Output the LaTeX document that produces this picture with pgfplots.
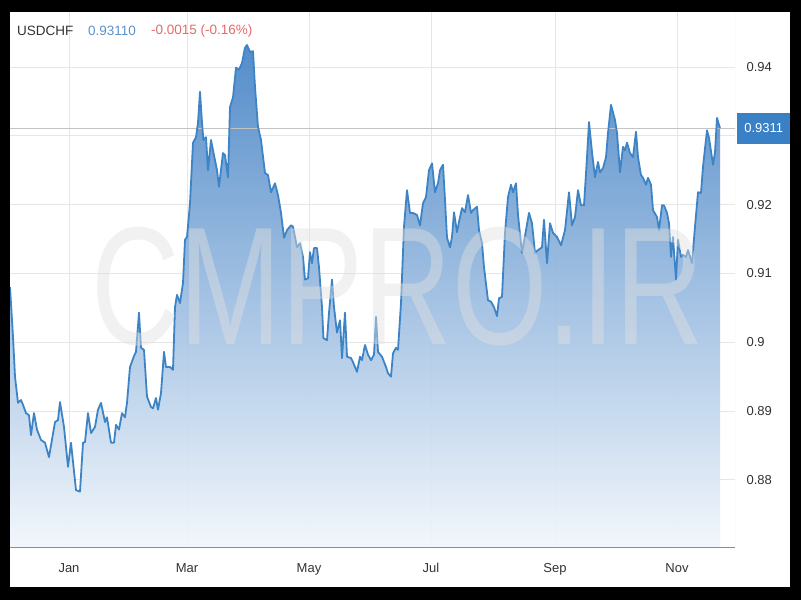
\documentclass[border=0pt]{standalone}
\usepackage{pgfplots}
\pgfplotsset{compat=1.18}
\usepackage{pgfplotstable}
\usepackage{fontspec}
\setmainfont{Liberation Sans}
\definecolor{lineblue}{HTML}{3D84C6}
\definecolor{filltop}{HTML}{4683C6}
\definecolor{fillbot}{HTML}{F2F7FC}
\definecolor{gridc}{HTML}{E6E6E6}
\definecolor{txt}{HTML}{333333}
\definecolor{hdrblue}{HTML}{5B92CC}
\definecolor{hdrred}{HTML}{E36B6B}
\definecolor{boxblue}{HTML}{3A80C5}
\definecolor{priceline}{HTML}{C4C4C4}

\pgfplotstableread{
day value
-29.5 0.9080
-28 0.9008
-27 0.8950
-25.5 0.8912
-24 0.8916
-23 0.8909
-21.5 0.8897
-20 0.8894
-19 0.8865
-17.5 0.8897
-16 0.8873
-14 0.8858
-12 0.8854
-10 0.8833
-7 0.8884
-5.5 0.8887
-4.5 0.8913
-2.5 0.8877
-0.5 0.8819
1 0.8854
3.5 0.8785
5.5 0.8783
7 0.8854
8 0.8855
9.5 0.8897
11 0.8868
13 0.8877
14.5 0.8902
16 0.8912
18 0.8884
19 0.8891
21 0.8854
22.5 0.8854
23.5 0.8880
25 0.8873
26.5 0.8897
28 0.8891
29 0.8912
30.5 0.8964
32.5 0.8980
33.5 0.8986
35 0.9043
36 0.8992
37.5 0.8989
39 0.8921
41 0.8906
42 0.8904
43.5 0.8919
44.5 0.8902
46 0.8926
47.5 0.8986
48.5 0.8964
50.5 0.8964
52 0.8960
53 0.9051
54 0.9069
55.5 0.9057
57 0.9086
58 0.9149
59 0.9153
60.5 0.9202
62 0.9290
63.5 0.9298
64.5 0.9319
65.5 0.9364
66.5 0.9319
67.2 0.9294
68.5 0.9298
69.5 0.9250
71 0.9294
72 0.9279
74 0.9250
75 0.9226
77 0.9275
78 0.9272
79.5 0.9240
80.5 0.9342
82 0.9356
83.5 0.9399
85 0.9396
86.5 0.9406
88 0.9428
89 0.9432
90.5 0.9422
92 0.9423
93 0.9371
94.5 0.9313
96 0.9294
98 0.9246
99.5 0.9243
101 0.9218
103 0.9231
104.5 0.9214
106 0.9188
107.5 0.9152
109 0.9163
111 0.9170
112 0.9168
114 0.9138
115.5 0.9144
117 0.9124
118 0.9091
119.5 0.9093
120.5 0.9131
121.5 0.9115
122.5 0.9137
124 0.9137
125 0.9109
126.5 0.9051
127.2 0.9006
129 0.9003
130 0.9043
131.5 0.9091
132.5 0.9051
134 0.9014
135.5 0.9032
136.5 0.8977
138 0.9043
139 0.8979
141 0.8977
142 0.8971
144 0.8957
145.5 0.8979
146.5 0.8974
148 0.8996
149.5 0.8982
151 0.8974
152.5 0.8982
153.5 0.9037
154.5 0.8986
156.5 0.8979
158.5 0.8964
159.5 0.8955
161 0.8950
162 0.8984
163.5 0.8992
164.5 0.8989
166 0.9057
167.5 0.9168
169 0.9221
170.5 0.9188
172 0.9188
174 0.9185
175.5 0.9170
177 0.9202
178.5 0.9211
180 0.9250
181.5 0.9260
183 0.9218
184.5 0.9231
185.5 0.9250
187 0.9258
188 0.9207
189 0.9152
190.5 0.9138
191.5 0.9153
192.5 0.9189
194 0.9160
195 0.9175
196.5 0.9195
198 0.9189
199.5 0.9214
201 0.9188
202 0.9192
204 0.9197
205 0.9163
206.5 0.9144
207.5 0.9109
209.5 0.9061
211 0.9059
212.5 0.9051
214 0.9038
215 0.9064
216.5 0.9066
218 0.9159
219.5 0.9211
221 0.9229
222 0.9218
223.5 0.9231
224.5 0.9185
226.5 0.9130
228.5 0.9163
230 0.9188
231.5 0.9173
233 0.9130
234.5 0.9134
236.5 0.9138
237.5 0.9178
239 0.9115
240.5 0.9173
242 0.9159
244 0.9153
246 0.9141
248 0.9163
250 0.9218
251.5 0.9170
253 0.9182
254.5 0.9221
256 0.9199
257.5 0.9199
259 0.9269
260 0.9320
261.5 0.9276
263 0.9240
264.5 0.9262
265.5 0.9247
267 0.9253
268.5 0.9269
269.5 0.9304
271 0.9345
273 0.9323
274 0.9304
275.5 0.9247
277 0.9284
278 0.9279
279 0.9290
280.5 0.9275
282 0.9269
283.5 0.9306
284.5 0.9269
286 0.9243
287 0.9239
288.5 0.9229
289.5 0.9239
291 0.9229
292 0.9192
294 0.9182
295 0.9163
296.5 0.9199
297.5 0.9199
299 0.9188
300 0.9173
301 0.9124
302 0.9153
303.5 0.9091
304.5 0.9149
306 0.9124
307 0.9127
308.5 0.9124
309.5 0.9134
311.5 0.9115
313 0.9168
314.5 0.9218
316 0.9217
317 0.9255
319 0.9308
320 0.9297
322 0.9258
323 0.9276
324 0.9326
325.5 0.9311
}\usdchf

\begin{document}
\begin{tikzpicture}[x=1pt,y=1pt]
\fill[black] (0,0) rectangle (801,600);
\fill[white] (10,13) rectangle (790,588);
\begin{axis}[
  at={(10pt,52pt)}, anchor=south west,
  scale only axis, width=725pt, height=536pt,
  xmin=-29.5, xmax=333, ymin=0.8701, ymax=0.9480,
  axis line style={draw=none},
  xtick={0,59,120,181,243,304},
  xticklabels={Jan,Mar,May,Jul,Sep,Nov},
  ytick={0.88,0.89,0.90,0.91,0.92,0.93,0.94},
  yticklabels={0.88,0.89,0.9,0.91,0.92,,0.94},
  yticklabel pos=right,
  xticklabel pos=lower,
  major tick length=0pt,
  xmajorgrids, ymajorgrids,
  major grid style={draw=gridc, line width=1pt},
  tick label style={font=\fontsize{13}{15}\selectfont, text=txt},
  yticklabel style={anchor=west, xshift=8pt},
  xticklabel style={yshift=-12pt},
]
\addplot[draw=none, fill opacity=0.92, top color=filltop, bottom color=fillbot, forget plot]
  table[x=day, y=value] {\usdchf} -- (axis cs:325.5,0.8701) -- (axis cs:-29.5,0.8701) -- cycle;
\addplot[draw=priceline, line width=1.2pt, forget plot] coordinates {(-29.5,0.9311) (333,0.9311)};
\addplot[draw=lineblue, line width=1.8pt, line join=round] table[x=day, y=value] {\usdchf};
\draw[gridc, line width=1pt] (axis cs:333,0.8701) -- (axis cs:333,0.9480);
\draw[black!45, line width=2pt] (axis cs:-29.5,0.8701) -- (axis cs:333,0.8701);
\coordinate (pl) at (axis cs:333,0.9311);
\end{axis}
\node[opacity=0.45, text=black!12, anchor=base west, inner sep=0pt,
      font=\fontsize{168}{168}\selectfont] at (91,255) {\scalebox{0.73}[1]{CMPRO.IR}};
\node[fill=boxblue, text=white, anchor=west, minimum width=53pt, minimum height=31pt,
      inner sep=0pt, font=\fontsize{13}{15}\selectfont] at ([xshift=2pt]pl) {0.9311};
\node[anchor=west, inner sep=0pt, text=txt, font=\fontsize{13.5}{16}\selectfont] at (17,569) {USDCHF};
\node[anchor=west, inner sep=0pt, text=hdrblue, font=\fontsize{13.5}{16}\selectfont] at (88,569) {0.93110};
\node[anchor=west, inner sep=0pt, text=hdrred, font=\fontsize{13.5}{16}\selectfont] at (151,569) {-0.0015 (-0.16\%)};
\end{tikzpicture}
\end{document}
